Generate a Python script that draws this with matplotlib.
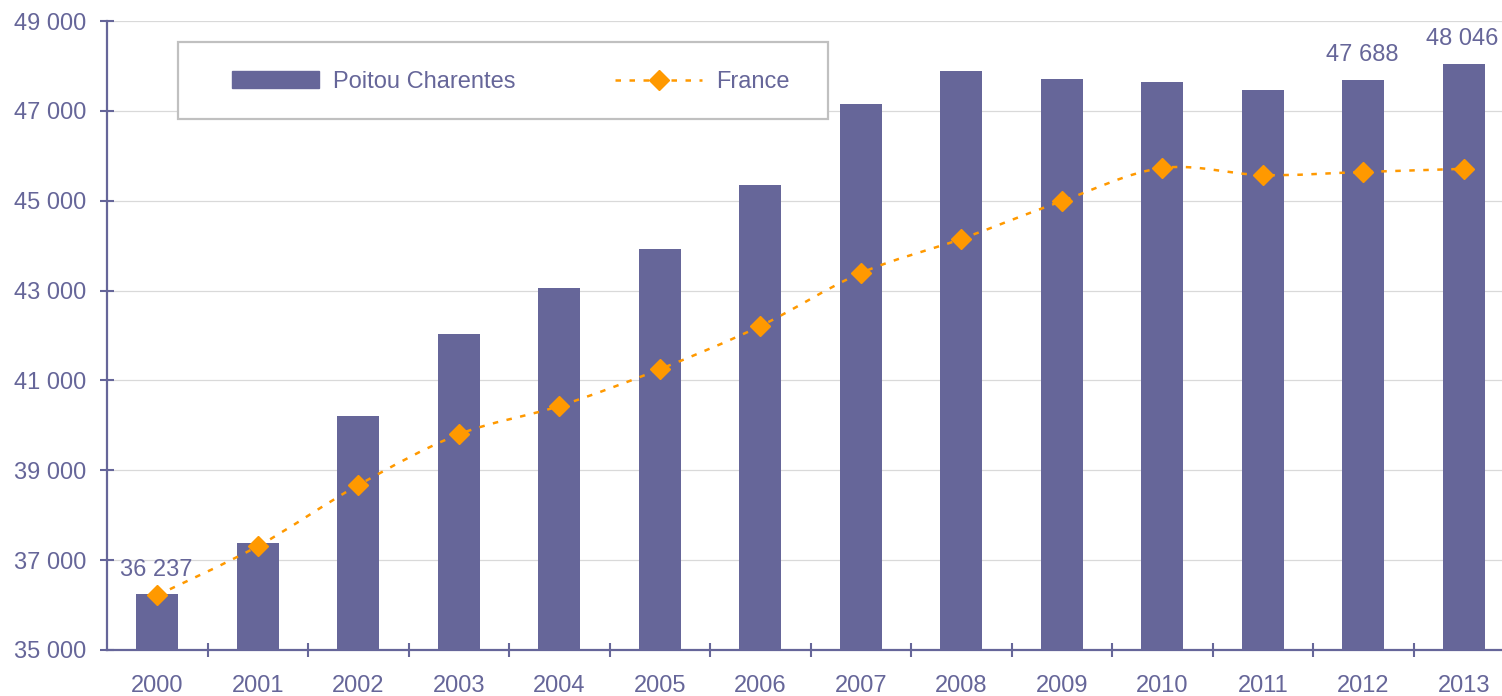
import numpy as np
import matplotlib
matplotlib.use("Agg")
from matplotlib import pyplot as plt
from matplotlib.path import Path
from matplotlib.patches import PathPatch, Rectangle
from matplotlib.lines import Line2D
from matplotlib.ticker import FuncFormatter

plt.rcParams['font.family'] = ['Liberation Sans', 'DejaVu Sans']

# Data
years = ['2000', '2001', '2002', '2003', '2004', '2005', '2006',
         '2007', '2008', '2009', '2010', '2011', '2012', '2013']
poitou = [36237, 37380, 40210, 42030, 43060, 43920, 45350,
          47150, 47890, 47710, 47640, 47460, 47688, 48046]
france = [36220, 37310, 38670, 39800, 40430, 41250, 42210,
          43390, 44150, 44990, 45730, 45570, 45640, 45710]
labelled = {0: '36 237', 12: '47 688', 13: '48 046'}

purple = '#666699'
orange = '#FF9900'

fig = plt.figure(figsize=(15.02, 6.96), dpi=100)
ax = fig.add_axes([107 / 1502, 1 - 650 / 696, 1 - 107 / 1502, (650 - 21) / 696])

x = np.arange(len(years))

# Bars
ax.bar(x, poitou, width=0.42, color=purple, zorder=2)

# Smoothed dotted line for France (bezier through the points)
pts = np.column_stack([x, france]).astype(float)
ext = np.vstack([pts[0], pts, pts[-1]])
verts = [tuple(pts[0])]
codes = [Path.MOVETO]
for i in range(len(pts) - 1):
    p0, p1, p2, p3 = ext[i], ext[i + 1], ext[i + 2], ext[i + 3]
    c1 = p1 + (p2 - p0) / 6
    c2 = p2 - (p3 - p1) / 6
    verts += [tuple(c1), tuple(c2), tuple(p2)]
    codes += [Path.CURVE4] * 3
ax.add_patch(PathPatch(Path(verts, codes), fill=False, edgecolor=orange,
                       lw=1.8, linestyle=(0, (2.2, 3.4)), zorder=3))
ax.plot(x, france, linestyle='none', marker='D', ms=10, color=orange,
        mec=orange, zorder=4)

# Data labels
for i, txt in labelled.items():
    ax.annotate(txt, (x[i], poitou[i]), xytext=(-1, 10), textcoords='offset points',
                ha='center', va='bottom', fontsize=17, color=purple)

# Axes styling
ax.set_ylim(35000, 49000)
ax.set_xlim(-0.5, 13.38)
ax.set_yticks(np.arange(35000, 49001, 2000))
ax.yaxis.set_major_formatter(FuncFormatter(lambda v, p: f"{v:,.0f}".replace(",", " ")))
ax.yaxis.grid(True, color='#d9d9d9', lw=0.9, zorder=0)
ax.set_axisbelow(True)

ax.set_xticks(x)
ax.set_xticklabels(years)
ax.set_xticks(np.arange(0.5, 13.0, 1.0), minor=True)

for s in ['top', 'right']:
    ax.spines[s].set_visible(False)
for s in ['left', 'bottom']:
    ax.spines[s].set_color(purple)
    ax.spines[s].set_linewidth(1.6)

ax.tick_params(axis='y', direction='inout', length=9.5, width=1.5, color=purple,
               labelcolor=purple, labelsize=17, pad=10)
ax.tick_params(axis='x', which='major', length=0, labelcolor=purple,
               labelsize=17, pad=18)
ax.tick_params(axis='x', which='minor', direction='inout', length=10, width=1.5,
               color=purple)

# Legend with its own frame
fig.patches.append(Rectangle((178 / 1502, 1 - 119 / 696), 650 / 1502, 77 / 696,
                             transform=fig.transFigure, facecolor='white',
                             edgecolor='#c0c0c0', lw=1.6, zorder=5))
handles = [Rectangle((0, 0), 1, 1, color=purple),
           Line2D([], [], color=orange, lw=1.8, linestyle=(0, (2.2, 3.4)),
                  marker='D', ms=10)]
leg = fig.legend(handles, ['Poitou Charentes', 'France'], ncol=2, frameon=False,
                 loc='center left', bbox_to_anchor=(220 / 1502, 1 - 82 / 696),
                 fontsize=17, labelcolor=purple, handlelength=3.7,
                 handletextpad=0.6, columnspacing=4.2, borderpad=0)
leg.set_zorder(6)

fig.savefig('out.png', dpi=100)
